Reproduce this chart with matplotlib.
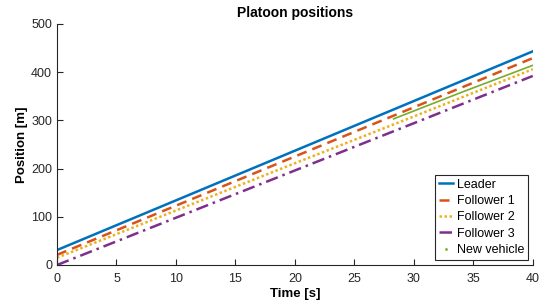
import matplotlib
matplotlib.use("Agg")
import matplotlib.pyplot as plt
from matplotlib.lines import Line2D

# time samples [s] and positions [m]
time = [0, 10, 20, 30, 40]
leader = [31, 134, 237, 340, 443]
follower1 = [21, 123, 225, 327, 429]
follower2 = [15, 113, 211, 308, 406]
follower3 = [0, 98, 196, 294, 392]
new_time = [28.3, 34, 40]
new_vehicle = [303, 358, 414]

plt.rcParams["font.family"] = ["Liberation Sans", "DejaVu Sans"]
plt.rcParams["font.size"] = 9

fig = plt.figure(figsize=(5.4, 3.06), dpi=100)
ax = fig.add_axes([0.1056, 0.134, 0.881, 0.788])

ax.plot(time, leader, color="#0072BD", lw=1.8, label="Leader")
ax.plot(time, follower1, color="#D95319", lw=1.8, ls=(0, (4, 2.5)), label="Follower 1")
ax.plot(time, follower2, color="#EDB120", lw=1.8, ls=(0, (1, 1)), label="Follower 2")
ax.plot(time, follower3, color="#7E2F8E", lw=1.8, ls=(0, (5, 2, 1, 2)), label="Follower 3")
ax.plot(new_time, new_vehicle, color="#77AC30", lw=1.2)

handles, labels = ax.get_legend_handles_labels()
handles.append(Line2D([], [], color="#77AC30", marker=".", ms=2, ls="none"))
labels.append("New vehicle")
leg = ax.legend(handles, labels, loc="lower right", fancybox=False, edgecolor="#262626",
                framealpha=1, handlelength=1.1, handletextpad=0.3, borderpad=0.3,
                labelspacing=0.35, borderaxespad=0.4)
leg.get_frame().set_linewidth(0.8)

ax.set_xlim(0, 40)
ax.set_ylim(0, 500)
ax.set_xticks(range(0, 41, 5))
ax.set_yticks(range(0, 501, 100))
ax.spines["top"].set_visible(False)
ax.spines["right"].set_visible(False)
for s in ("left", "bottom"):
    ax.spines[s].set_color("#262626")
    ax.spines[s].set_linewidth(0.8)
ax.tick_params(direction="in", length=4, colors="#262626", labelsize=9)
ax.tick_params(axis="x", pad=6)

ax.set_title("Platoon positions", fontweight="bold", fontsize=10, pad=5)
ax.set_xlabel("Time [s]", fontweight="bold", fontsize=9.5, labelpad=2)
ax.set_ylabel("Position [m]", fontweight="bold", fontsize=9.5, labelpad=2)

fig.savefig("out.png", dpi=100)
